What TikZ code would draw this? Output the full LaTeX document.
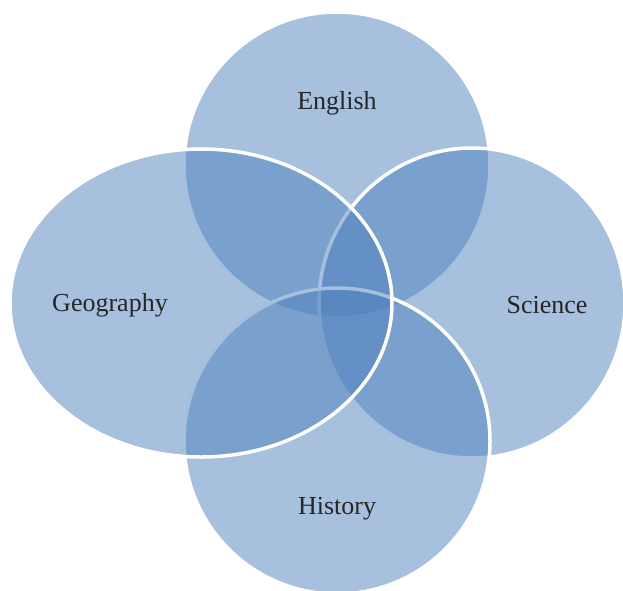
\documentclass[tikz,border=0pt]{standalone}
\usepackage{fontspec}
\setmainfont{Liberation Serif}
\usetikzlibrary{shapes.geometric}
\definecolor{vennblue}{RGB}{79,129,189}
\tikzset{
	venn/.style={ellipse, inner sep=0pt, fill=vennblue, fill opacity=.5, draw=white, line width=3.5pt},
	subject/.style={text=black!85, font=\fontsize{26}{30}\selectfont}
}
\begin{document}
\begin{tikzpicture}[x=1pt, y=-1pt]
	\clip (0,0) rectangle (623,590);
	\node[venn, minimum width=306pt, minimum height=306pt] (english)   at (337,165) {};
	\node[venn, minimum width=306pt, minimum height=310pt] (science)   at (472,303) {};
	\node[venn, minimum width=306pt, minimum height=306pt] (history)   at (337,441) {};
	\node[venn, minimum width=382pt, minimum height=308pt] (geography) at (201,303) {};
	\node[subject] (english-text)   at (337,103) {English};
	\node[subject] (science-text)   at (547,305) {Science};
	\node[subject] (history-text)   at (337,509) {History};
	\node[subject] (geography-text) at (110,305) {Geography};
\end{tikzpicture}
\end{document}
